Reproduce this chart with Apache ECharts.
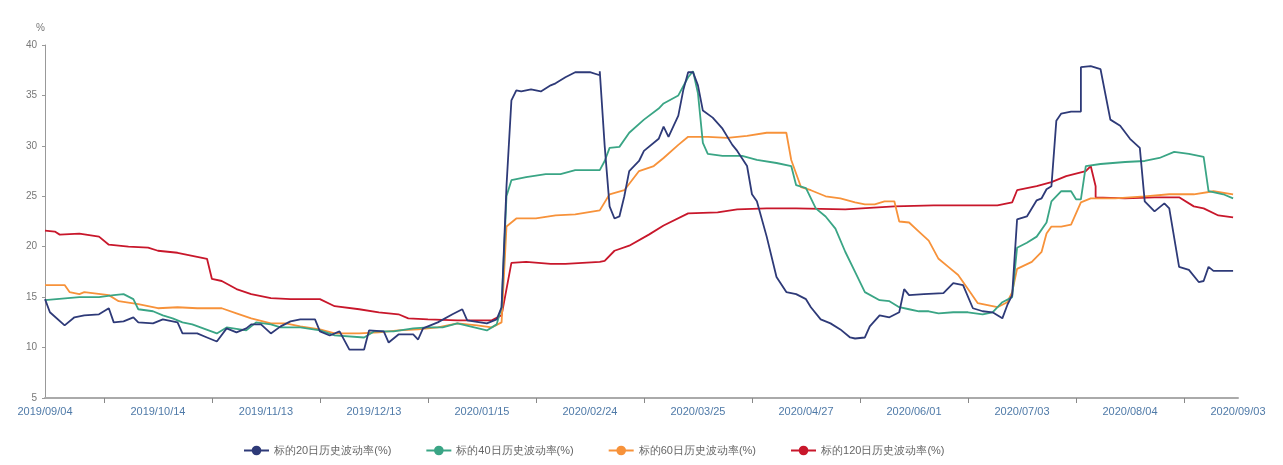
<!DOCTYPE html>
<html style="height: 100%">
<head>
    <meta charset="utf-8">
    <script src="https://cdn.jsdelivr.net/npm/echarts@6/dist/echarts.min.js"></script>
</head>
<body style="height: 100%; margin: 0; background: #fff">
<div id="container" style="height: 100%"></div>
<script type="text/javascript">
    // trading days 2019/09/04 - 2020/09/03 (weekdays minus holidays)
    var holidays = ['2019-10-01', '2019-10-02', '2019-10-03', '2019-10-04', '2019-10-07', '2020-01-01',
        '2020-01-24', '2020-01-27', '2020-01-28', '2020-01-29', '2020-01-30', '2020-01-31',
        '2020-04-06', '2020-05-01', '2020-05-04', '2020-05-05', '2020-06-25', '2020-06-26'];
    var labelDates = ['2019/09/04', '2019/10/14', '2019/11/13', '2019/12/13', '2020/01/15', '2020/02/24',
        '2020/03/25', '2020/04/27', '2020/06/01', '2020/07/03', '2020/08/04', '2020/09/03'];

    var dates = [];
    function pad(n) { return n < 10 ? '0' + n : '' + n; }
    for (var d = new Date(Date.UTC(2019, 8, 4)); d <= new Date(Date.UTC(2020, 8, 3)); d.setUTCDate(d.getUTCDate() + 1)) {
        var wd = d.getUTCDay();
        var key = d.getUTCFullYear() + '-' + pad(d.getUTCMonth() + 1) + '-' + pad(d.getUTCDate());
        if (wd === 0 || wd === 6 || holidays.indexOf(key) >= 0) continue;
        dates.push(key.replace(/-/g, '/'));
    }

    // [trading day index, value]
    var vol20 = [[0,14.8],[1,13.5],[4,12.2],[6,13.0],[8,13.2],[11,13.3],[13,13.9],[14,12.5],[16,12.6],[18,13.0],[19,12.5],[22,12.4],[24,12.8],[27,12.5],[28,11.4],[31,11.4],[33,11.0],[35,10.6],[37,11.9],[39,11.5],[41,11.9],[42,12.3],[44,12.3],[46,11.4],[48,12.1],[50,12.6],[52,12.8],[55,12.8],[56,11.6],[58,11.2],[60,11.6],[62,9.8],[65,9.8],[66,11.7],[69,11.6],[70,10.5],[72,11.3],[75,11.3],[76,10.8],[77,11.9],[80,12.5],[83,13.3],[85,13.8],[86,12.7],[90,12.4],[92,12.8],[93,14],[94,26],[95,34.5],[96,35.5],[97,35.4],[99,35.6],[101,35.4],[103,36],[104,36.2],[106,36.8],[108,37.3],[111,37.3],[113,37.0],[113,37.4],[114,30],[115,24],[116,22.8],[117,23.0],[118,25],[119,27.5],[121,28.5],[122,29.5],[125,30.7],[126,31.9],[127,30.9],[129,33],[130,35.5],[131,37.3],[132,37.3],[133,36],[134,33.5],[136,32.8],[138,31.7],[140,30.1],[141,29.5],[143,28],[144,25.2],[145,24.5],[147,21],[149,17],[151,15.5],[153,15.3],[155,14.8],[156,14.0],[158,12.8],[160,12.4],[162,11.8],[164,11.0],[165,10.9],[167,11.0],[168,12.1],[170,13.2],[172,13.0],[174,13.5],[175,15.8],[176,15.2],[179,15.3],[183,15.4],[185,16.4],[187,16.2],[189,13.9],[191,13.6],[193,13.5],[195,12.9],[196,14.2],[197,15.2],[198,22.7],[200,23],[202,24.6],[203,24.8],[204,25.7],[205,26.0],[206,32.5],[207,33.2],[209,33.4],[211,33.4],[211,37.8],[213,37.9],[215,37.6],[217,32.6],[219,32],[221,30.7],[223,29.8],[224,24.5],[226,23.5],[228,24.3],[229,23.8],[231,18],[233,17.7],[235,16.5],[236,16.6],[237,18],[238,17.6],[242,17.6]];
    var vol40 = [[0,14.7],[7,15.0],[11,15.0],[14,15.2],[16,15.3],[18,14.8],[19,13.8],[22,13.6],[24,13.2],[26,12.9],[28,12.5],[30,12.3],[35,11.4],[37,12.0],[41,11.7],[43,12.5],[46,12.3],[48,12.0],[52,12.0],[56,11.7],[59,11.2],[65,11.0],[67,11.6],[71,11.6],[75,11.9],[78,12.0],[81,12.0],[84,12.4],[90,11.7],[92,12.3],[93,14],[94,25],[95,26.6],[98,26.9],[102,27.2],[105,27.2],[108,27.6],[113,27.6],[114,28.5],[115,29.8],[117,29.9],[119,31.3],[122,32.6],[125,33.7],[126,34.2],[129,35.0],[131,36.8],[132,37.4],[133,35.2],[134,30.3],[135,29.2],[138,29.0],[142,29.0],[145,28.6],[149,28.3],[152,28.0],[153,26.1],[155,25.8],[157,23.8],[159,23],[161,21.8],[163,19.5],[165,17.5],[167,15.5],[170,14.7],[172,14.6],[174,14.0],[176,13.8],[178,13.6],[180,13.6],[182,13.4],[185,13.5],[188,13.5],[191,13.3],[193,13.5],[195,14.5],[197,15.0],[198,19.9],[200,20.4],[202,21.0],[204,22.4],[205,24.5],[207,25.5],[209,25.5],[210,24.7],[211,24.7],[212,28.0],[215,28.2],[220,28.4],[224,28.5],[227,28.8],[230,29.4],[233,29.2],[236,28.9],[237,25.5],[240,25.2],[242,24.8]];
    var vol60 = [[0,16.2],[4,16.2],[5,15.5],[7,15.3],[8,15.5],[13,15.2],[15,14.6],[19,14.3],[23,13.9],[27,14.0],[31,13.9],[36,13.9],[39,13.4],[42,12.9],[46,12.4],[49,12.4],[52,12.1],[56,11.8],[59,11.4],[64,11.4],[68,11.5],[72,11.7],[76,11.8],[80,12.0],[84,12.4],[88,12.2],[91,12.0],[93,12.5],[94,22.0],[96,22.8],[100,22.8],[104,23.1],[108,23.2],[113,23.6],[115,25.2],[118,25.6],[121,27.5],[124,28.0],[126,28.8],[129,30.1],[131,30.9],[135,30.9],[139,30.8],[143,31.0],[147,31.3],[151,31.3],[152,28.6],[154,25.9],[156,25.6],[159,25.0],[162,24.8],[165,24.4],[167,24.2],[169,24.2],[171,24.5],[173,24.5],[174,22.5],[176,22.4],[178,21.5],[180,20.6],[182,18.8],[184,18.0],[186,17.2],[188,15.8],[190,14.4],[194,14.0],[196,14.5],[197,15.5],[198,17.8],[201,18.5],[203,19.5],[204,21.3],[205,22.0],[207,22.0],[209,22.2],[211,24.4],[213,24.8],[218,24.8],[224,25.0],[229,25.2],[234,25.2],[238,25.5],[242,25.2]];
    var vol120 = [[0,21.6],[2,21.5],[3,21.2],[7,21.3],[11,21.0],[13,20.2],[17,20.0],[21,19.9],[23,19.6],[27,19.4],[31,19.0],[33,18.8],[34,16.8],[36,16.6],[39,15.8],[42,15.3],[46,14.9],[50,14.8],[56,14.8],[59,14.1],[64,13.8],[68,13.5],[72,13.3],[74,12.9],[78,12.8],[84,12.7],[91,12.7],[93,13.2],[95,18.4],[98,18.5],[103,18.3],[106,18.3],[113,18.5],[114,18.6],[116,19.6],[119,20.1],[123,21.2],[126,22.1],[131,23.3],[137,23.4],[141,23.7],[147,23.8],[153,23.8],[163,23.7],[173,24.0],[181,24.1],[194,24.1],[197,24.4],[198,25.6],[202,26.0],[205,26.4],[208,27.0],[212,27.5],[213,28.0],[214,26.0],[214,24.9],[220,24.8],[226,24.9],[231,24.9],[234,24.0],[236,23.8],[239,23.1],[242,22.9]];

    var names = ['标的20日历史波动率(%)', '标的40日历史波动率(%)', '标的60日历史波动率(%)', '标的120日历史波动率(%)'];
    var colors = ['#2e3a78', '#3aa585', '#f7923a', '#c8172b'];
    var allData = [vol20, vol40, vol60, vol120];

    var labelIdx = labelDates.map(function (s) { return dates.indexOf(s); });
    var tickIdx = [];
    for (var i = 0; i < labelIdx.length - 1; i++) {
        tickIdx.push(Math.round((labelIdx[i] + labelIdx[i + 1]) / 2));
    }

    var myChart = echarts.init(document.getElementById('container'));
    var option = {
        animation: false,
        color: colors,
        grid: {left: 45, right: 45, top: 45, bottom: 67},
        legend: {
            left: 238,
            bottom: 4,
            itemGap: 34,
            itemWidth: 25,
            itemHeight: 12,
            textStyle: {color: '#666', fontSize: 11},
            data: names
        },
        xAxis: {
            type: 'category',
            data: dates,
            boundaryGap: false,
            axisLine: {lineStyle: {color: '#aaa', width: 2}},
            axisTick: {
                interval: function (idx) { return tickIdx.indexOf(idx) >= 0; },
                lineStyle: {color: '#888'}
            },
            axisLabel: {
                interval: function (idx) { return labelIdx.indexOf(idx) >= 0; },
                color: '#4f7aa8',
                fontSize: 11,
                margin: 8
            }
        },
        yAxis: {
            type: 'value',
            name: '%',
            nameGap: 12,
            nameTextStyle: {color: '#777', fontSize: 10, align: 'right'},
            min: 5,
            max: 40,
            interval: 5,
            splitLine: {show: false},
            axisLine: {show: true, lineStyle: {color: '#999'}},
            axisTick: {show: true, length: 3},
            axisLabel: {color: '#777', fontSize: 10}
        },
        series: allData.map(function (data, k) {
            return {
                name: names[k],
                type: 'line',
                data: data,
                showSymbol: false,
                symbol: 'circle',
                symbolSize: 8,
                lineStyle: {width: 1.8},
                z: k === 0 ? 5 : 4 - k
            };
        })
    };
    myChart.setOption(option);
</script>
</body>
</html>
